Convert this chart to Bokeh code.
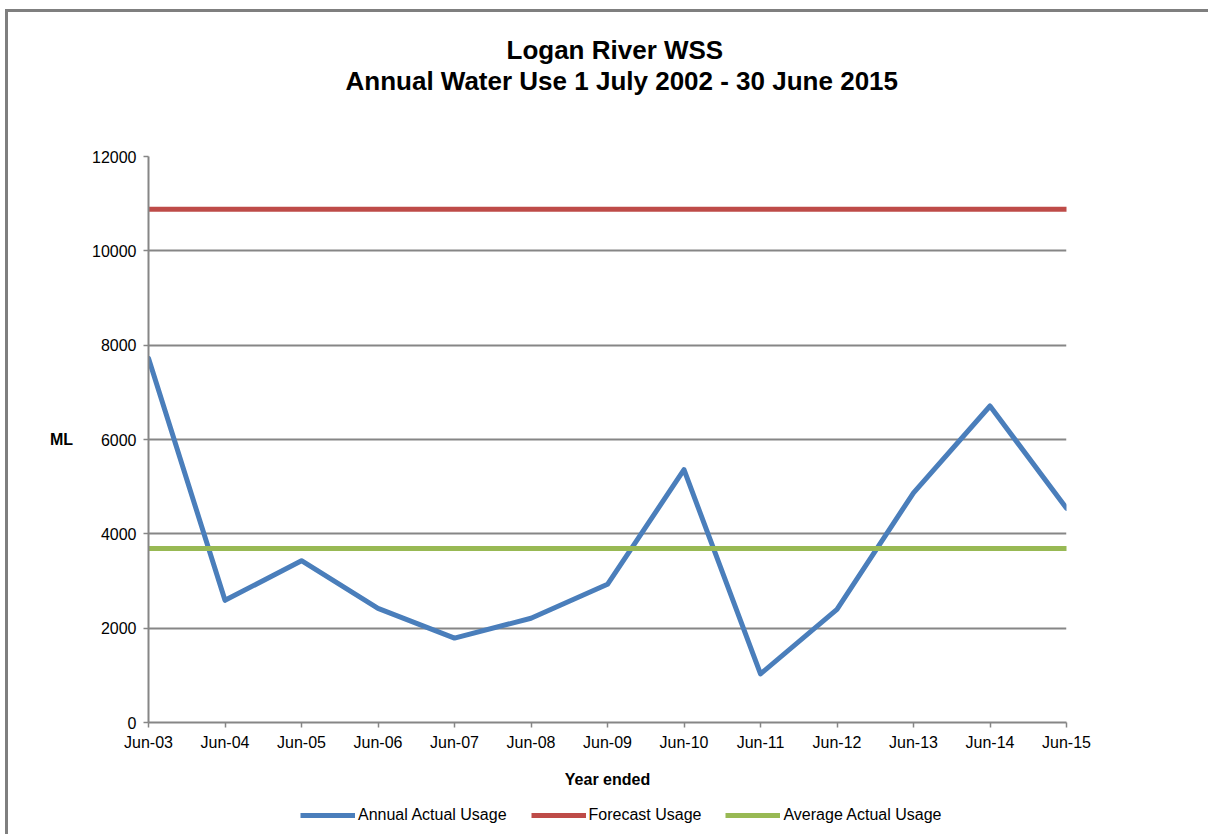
from bokeh.plotting import figure
from bokeh.layouts import column
from bokeh.models import (ColumnDataSource, FixedTicker, Range1d, Title, Legend, LegendItem)
from bokeh.embed import file_html
from bokeh.resources import INLINE

# ---- data ----
years = ["Jun-03", "Jun-04", "Jun-05", "Jun-06", "Jun-07", "Jun-08", "Jun-09",
         "Jun-10", "Jun-11", "Jun-12", "Jun-13", "Jun-14", "Jun-15"]
actual_usage = [7720, 2590, 3430, 2420, 1790, 2210, 2930, 5360, 1030, 2400, 4870, 6710, 4540]
forecast_usage = [10880] * 13
average_usage = [3690] * 13
y_ticks = [0, 2000, 4000, 6000, 8000, 10000, 12000]
title_lines = ["Logan River WSS", "Annual Water Use 1 July 2002 - 30 June 2015"]
series_names = ["Annual Actual Usage", "Forecast Usage", "Average Actual Usage"]
series_fields = ["actual", "forecast", "average"]
series_colors = ["#4A7EBB", "#BE4B48", "#98B954"]

xs = list(range(len(years)))
src = ColumnDataSource(dict(x=xs, actual=actual_usage, forecast=forecast_usage, average=average_usage))

FONT = "Liberation Sans"
GRID = "#868686"

xr = Range1d(0, len(years) - 1)
yr = Range1d(0, 12000)
p = figure(frame_width=918, frame_height=566, output_backend="svg", toolbar_location=None,
           x_range=xr, y_range=yr)
p.min_border_left = 140
p.min_border_right = 142
p.min_border_top = 0
p.min_border_bottom = 82
p.outline_line_color = None
p.background_fill_color = "white"
p.border_fill_color = "white"

# titles stacked above the frame (first added = closest to the frame)
def spacer(px):
    return Title(text=" ", text_font_size="1px", standoff=px, align="center")

p.add_layout(spacer(58), "above")
title_offsets = [358, 197]
title_standoffs = [0, -1]
for line, off, so in reversed(list(zip(title_lines, title_offsets, title_standoffs))):
    p.add_layout(Title(text=line, align="left", offset=off, standoff=so,
                       text_font=FONT, text_font_size="26px", text_font_style="bold",
                       text_color="black"), "above")
p.add_layout(spacer(17), "above")

for field, col in zip(series_fields, series_colors):
    p.line("x", field, source=src, line_color=col, line_width=5,
           line_join="round", line_cap="round")

# axes
p.xaxis.ticker = FixedTicker(ticks=xs)
p.xaxis.major_label_overrides = {i: lab for i, lab in enumerate(years)}
p.yaxis.ticker = FixedTicker(ticks=y_ticks)
for ax in (p.xaxis, p.yaxis):
    ax.axis_line_color = GRID
    ax.axis_line_width = 2
    ax.major_tick_line_color = GRID
    ax.major_tick_line_width = 1.5
    ax.major_tick_out = 5
    ax.major_tick_in = 0
    ax.minor_tick_line_color = None
    ax.major_label_text_font = FONT
    ax.major_label_text_font_size = "16px"
    ax.major_label_text_color = "black"
    ax.axis_label_text_font = FONT
    ax.axis_label_text_font_size = "16px"
    ax.axis_label_text_font_style = "bold"
    ax.axis_label_text_color = "black"

p.xaxis.axis_label = "Year ended"
p.xaxis.major_label_standoff = 6
p.xaxis.axis_label_standoff = 17
p.yaxis.axis_label = "ML"
p.yaxis.axis_label_orientation = "horizontal"
p.yaxis.major_label_standoff = 7
p.yaxis.axis_label_standoff = 16

p.xgrid.grid_line_color = None
p.ygrid.grid_line_color = GRID
p.ygrid.grid_line_width = 2

# legend strip below the chart: same series, drawn outside its (tiny) view so only keys show
p2 = figure(width=1200, height=30, output_backend="svg", toolbar_location=None,
            x_range=Range1d(0, 1), y_range=Range1d(-3, -2),
            x_axis_location=None, y_axis_location=None, min_border=0)
p2.outline_line_color = None
p2.xgrid.grid_line_color = None
p2.ygrid.grid_line_color = None
items = []
for name, field, col in zip(series_names, series_fields, series_colors):
    r = p2.line("x", field, source=src, line_color=col, line_width=5)
    items.append(LegendItem(label=name, renderers=[r]))

legend = Legend(items=items, orientation="horizontal", location=(152, 9))
legend.label_text_font = FONT
legend.label_text_font_size = "16px"
legend.label_text_color = "black"
legend.glyph_width = 55
legend.glyph_height = 20
legend.label_standoff = 3
legend.spacing = 24
legend.border_line_color = None
legend.background_fill_alpha = 0
legend.padding = 0
legend.margin = 0
p2.add_layout(legend, "center")

layout = column(p, p2, spacing=0)
layout.margin = (9, 0, 0, 5)
layout.styles = {"border-top": "3px solid #7f7f7f", "border-left": "3px solid #7f7f7f"}

open("out.html", "w").write(file_html(layout, INLINE))
